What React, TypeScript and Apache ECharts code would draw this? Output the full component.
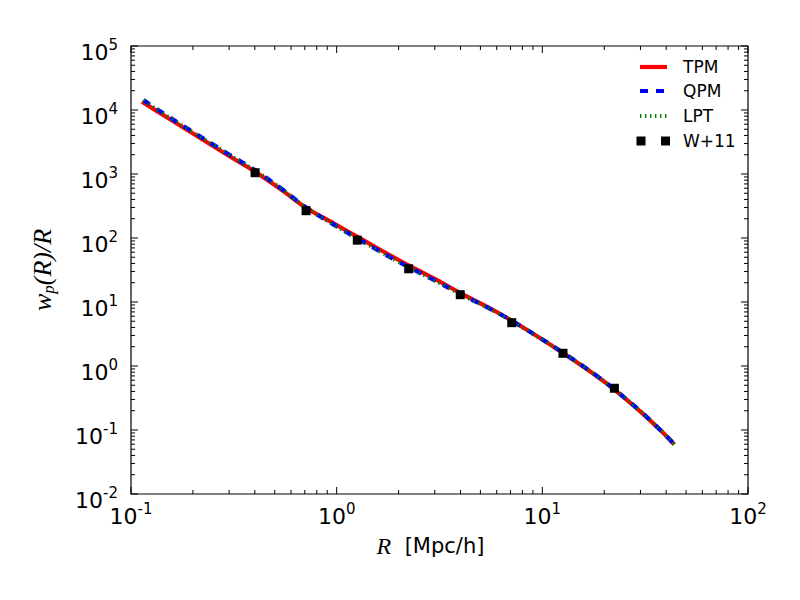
import React, { useEffect, useRef } from "react";
import * as echarts from "echarts";

// ---- data ----
const R_TPM = [0.113, 0.15, 0.2, 0.3, 0.4, 0.55, 0.7, 1.0, 1.3, 2.0, 3.0, 4.0, 6.0, 8.0, 12.6, 18, 22.4, 30, 38, 43.7];
const W_TPM = [13500, 7640, 4300, 1910, 1094, 540, 306, 159, 98.6, 45.3, 22.9, 13.8, 6.98, 4.06, 1.6, 0.73, 0.427, 0.194, 0.0954, 0.0595];

const R_QPM = [0.115, 0.15, 0.2, 0.3, 0.4, 0.55, 0.7, 1.0, 1.3, 2.0, 3.0, 4.0, 6.0, 8.0, 12.6, 18, 22.4, 30, 38, 44.0];
const W_QPM = [14300, 8100, 4550, 2020, 1150, 562, 310, 152, 93, 42.5, 21.7, 13.3, 6.9, 4.05, 1.62, 0.74, 0.432, 0.196, 0.0958, 0.0592];

const R_LPT = [0.115, 0.15, 0.2, 0.3, 0.4, 0.55, 0.7, 1.0, 1.3, 2.0, 3.0, 4.0, 6.0, 8.0, 12.6, 18, 22.4, 30, 38, 44.0];
const W_LPT = [14100, 8000, 4500, 2000, 1140, 557, 308, 151, 92.5, 42.2, 21.5, 13.2, 6.85, 4.02, 1.61, 0.736, 0.43, 0.195, 0.0955, 0.059];

const R_OBS = [0.401, 0.71, 1.26, 2.24, 3.99, 7.1, 12.6, 22.4];
const W_OBS = [1047, 267, 92.5, 33, 13.0, 4.75, 1.58, 0.449];

const X_MIN = 0.1, X_MAX = 100;
const Y_MIN = 1e-2, Y_MAX = 1e5;

const LEGEND_NAMES = ["TPM", "QPM", "LPT", "W+11"];

function zip(xs: number[], ys: number[]) {
  return xs.map((x, i) => [x, ys[i]]);
}

function tickData() {
  const out: number[][] = [];
  for (let d = -1; d <= 2; d++) {
    const base = Math.pow(10, d);
    out.push([base, Y_MIN, 0, 1]);
    if (d < 2) for (let k = 2; k <= 9; k++) out.push([k * base, Y_MIN, 0, 0]);
  }
  for (let d = -2; d <= 5; d++) {
    const base = Math.pow(10, d);
    out.push([X_MIN, base, 1, 1]);
    if (d < 5) for (let k = 2; k <= 9; k++) out.push([X_MIN, k * base, 1, 0]);
  }
  return out;
}

const SANS = "DejaVu Sans";
const SERIF = "Liberation Serif";

function powLabel(v: number) {
  const e = Math.round(Math.log10(v));
  return "{b|10}{s|" + e + "}";
}

const labelRich = {
  b: { fontSize: 22, fontFamily: SANS, color: "#000", lineHeight: 30 },
  s: { fontSize: 15, fontFamily: SANS, color: "#000", lineHeight: 14, verticalAlign: "top" },
};

export default function App() {
  const ref = useRef<HTMLDivElement>(null);
  useEffect(() => {
    document.body.style.margin = "0";
    const chart = echarts.init(ref.current!, null, { renderer: "svg" });
    const gridLeft = 131, gridTop = 46, gridW = 617, gridH = 448;
    const lx = 640, lx2 = 667, tx = 683;
    const ly = [67, 91, 116, 141];
    chart.setOption({
      animation: false,
      backgroundColor: "#fff",
      grid: {
        left: gridLeft, top: gridTop, width: gridW, height: gridH,
        show: true, borderColor: "#000", borderWidth: 1.2, backgroundColor: "transparent",
      },
      xAxis: {
        type: "log", logBase: 10, min: X_MIN, max: X_MAX, interval: 1,
        axisLine: { show: false }, axisTick: { show: false }, splitLine: { show: false },
        axisLabel: { formatter: powLabel, rich: labelRich, margin: 7 },
        name: "{i|R}  [Mpc/h]", nameLocation: "middle", nameGap: 40,
        nameTextStyle: {
          fontSize: 21, fontFamily: SANS, color: "#000", padding: [0, 18, 0, 0],
          rich: { i: { fontFamily: SERIF, fontStyle: "italic", fontSize: 24, color: "#000" } },
        },
      },
      yAxis: {
        type: "log", logBase: 10, min: Y_MIN, max: Y_MAX, interval: 1,
        axisLine: { show: false }, axisTick: { show: false }, splitLine: { show: false },
        axisLabel: { formatter: powLabel, rich: labelRich, margin: 13, padding: [12, 0, 0, 0] },
        name: "{i|w}{sub|p}{i|(R)/R}", nameLocation: "middle", nameGap: 74, nameRotate: 90,
        nameTextStyle: {
          color: "#000",
          rich: {
            i: { fontFamily: SERIF, fontStyle: "italic", fontSize: 26, color: "#000", lineHeight: 30 },
            sub: { fontFamily: SERIF, fontStyle: "italic", fontSize: 17, color: "#000", lineHeight: 14, verticalAlign: "bottom" },
          },
        },
      },
      series: [
        {
          name: "TPM", type: "line", data: zip(R_TPM, W_TPM), showSymbol: false, symbol: "none",
          smooth: 0.4, lineStyle: { color: "#ff0000", width: 4.2 }, z: 2,
        },
        {
          name: "QPM", type: "line", data: zip(R_QPM, W_QPM), showSymbol: false, symbol: "none",
          smooth: 0.4, lineStyle: { color: "#0000ff", width: 4.2, type: [8, 8] }, z: 3,
        },
        {
          name: "LPT", type: "line", data: zip(R_LPT, W_LPT), showSymbol: false, symbol: "none",
          smooth: 0.4, lineStyle: { color: "#008000", width: 4, type: [1.4, 4.2] }, z: 4,
        },
        {
          name: "W+11", type: "scatter", data: zip(R_OBS, W_OBS), symbol: "rect", symbolSize: 9,
          itemStyle: { color: "#000", opacity: 1 }, z: 5,
        },
        {
          type: "custom", silent: true, z: 6, clip: false,
          data: tickData(),
          encode: { x: 0, y: 1 },
          renderItem: (params: any, api: any) => {
            const orient = api.value(2);
            const major = api.value(3);
            const bl = api.coord([X_MIN, Y_MIN]);
            const tr = api.coord([X_MAX, Y_MAX]);
            const len = major ? 7 : 4;
            const style = { stroke: "#000", lineWidth: 1 };
            if (orient === 0) {
              const x = api.coord([api.value(0), Y_MIN])[0];
              return {
                type: "group",
                children: [
                  { type: "line", shape: { x1: x, y1: bl[1], x2: x, y2: bl[1] - len }, style },
                  { type: "line", shape: { x1: x, y1: tr[1], x2: x, y2: tr[1] + len }, style },
                ],
              };
            }
            const y = api.coord([X_MIN, api.value(1)])[1];
            return {
              type: "group",
              children: [
                { type: "line", shape: { x1: bl[0], y1: y, x2: bl[0] + len, y2: y }, style },
                { type: "line", shape: { x1: tr[0], y1: y, x2: tr[0] - len, y2: y }, style },
              ],
            };
          },
        },
      ],
      graphic: [
        { type: "line", shape: { x1: lx, y1: ly[0], x2: lx2, y2: ly[0] }, style: { stroke: "#ff0000", lineWidth: 4.2 } },
        { type: "line", shape: { x1: lx, y1: ly[1], x2: lx2, y2: ly[1] }, style: { stroke: "#0000ff", lineWidth: 4.2, lineDash: [8, 8] } },
        { type: "line", shape: { x1: lx, y1: ly[2], x2: lx2, y2: ly[2] }, style: { stroke: "#008000", lineWidth: 4, lineDash: [1.4, 3.6] } },
        { type: "rect", shape: { x: lx - 3.5, y: ly[3] - 4.5, width: 9, height: 9 }, style: { fill: "#000" } },
        { type: "rect", shape: { x: lx2 - 6, y: ly[3] - 4.5, width: 9, height: 9 }, style: { fill: "#000" } },
        ...LEGEND_NAMES.map((n, i) => ({
          type: "text", x: tx, y: ly[i],
          style: { text: n, fontSize: 17, fontFamily: SANS, fill: "#000", verticalAlign: "middle", align: "left" },
        })),
      ],
    });
    return () => chart.dispose();
  }, []);
  return <div ref={ref} style={{ width: 800, height: 600 }} />;
}
